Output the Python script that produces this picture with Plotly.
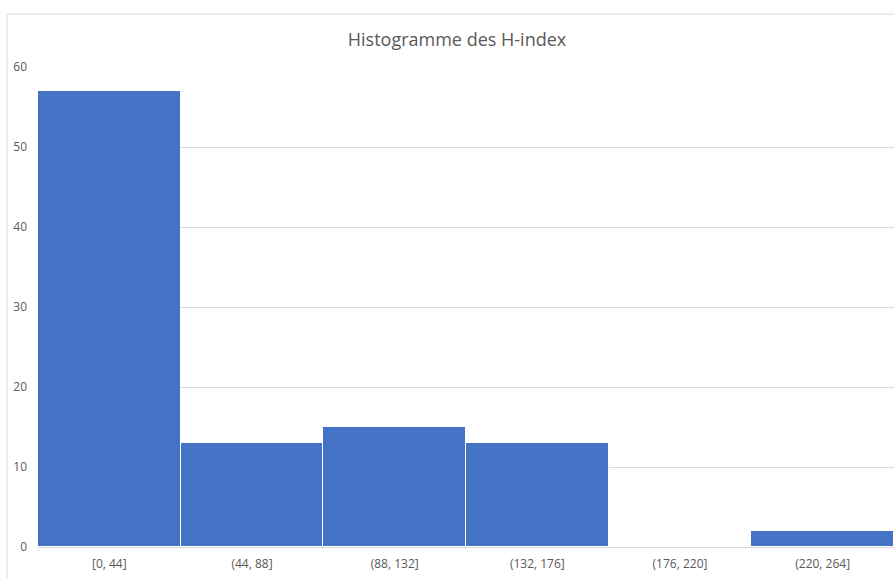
import plotly.graph_objects as go

categories = ["[0, 44]", "(44, 88]", "(88, 132]", "(132, 176]", "(176, 220]", "(220, 264]"]
counts = [57, 13, 15, 13, 0, 2]
title_text = "Histogramme des H-index"

W, H = 894, 578
L, R, T, B = 38, 0, 67, 31
pw = W - L - R
ph = H - T - B

fig = go.Figure(go.Bar(
    x=categories, y=counts,
    marker=dict(color="#4472C4", line=dict(color="#ffffff", width=1)),
    hoverinfo="x+y",
))

fig.update_layout(
    width=W, height=H,
    margin=dict(l=L, r=R, t=T, b=B),
    paper_bgcolor="#ffffff", plot_bgcolor="#ffffff",
    bargap=0,
    showlegend=False,
    font=dict(family="Open Sans, Noto Sans, sans-serif", color="#595959", size=12),
    title=dict(text=title_text, x=457 / W, xanchor="center",
               y=1 - 40 / H, yanchor="middle",
               font=dict(size=18, color="#595959")),
)
fig.update_xaxes(showgrid=False, showline=True, linecolor="#d9d9d9", linewidth=1,
                 ticks="", tickfont=dict(size=12, color="#595959"), fixedrange=True,
                 ticklabelstandoff=6)
fig.update_yaxes(range=[0, 60], dtick=10, showgrid=True, gridcolor="#d9d9d9",
                 zeroline=False, showline=False, ticks="",
                 tickfont=dict(size=12, color="#595959"), ticklabelstandoff=10)

# chart frame (top and left borders)
fx0 = (7 - L) / pw
fy1 = 1 + (T - 14) / ph
fy0 = -(H - T - ph) / ph - 0.01
fig.add_shape(type="line", xref="paper", yref="paper", x0=fx0, x1=1.01, y0=fy1, y1=fy1,
              line=dict(color="#d9d9d9", width=1))
fig.add_shape(type="line", xref="paper", yref="paper", x0=fx0, x1=fx0, y0=fy0, y1=fy1,
              line=dict(color="#d9d9d9", width=1))

fig.write_html("out.html", config={"displayModeBar": False},
               post_script="document.body.style.margin='0';document.body.style.overflow='hidden';")
